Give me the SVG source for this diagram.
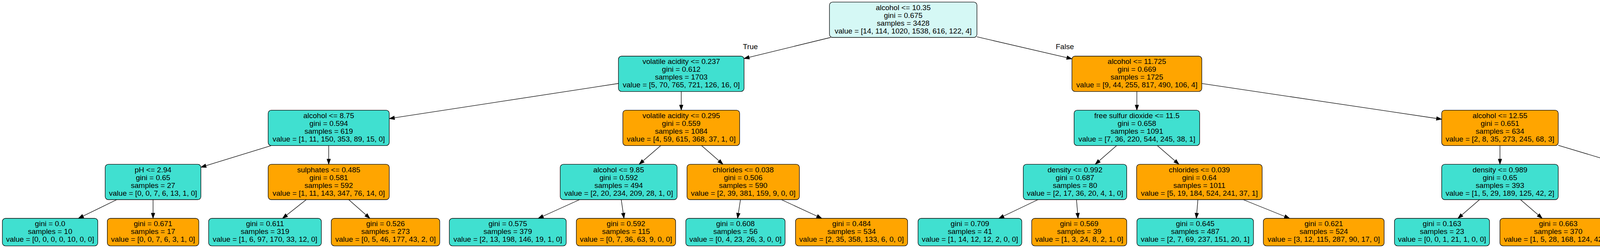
<svg xmlns="http://www.w3.org/2000/svg" width="4707" height="636" viewBox="0 0 4707 636">
<style>
.n rect{stroke:#000;stroke-width:1.33}
.t{fill:#40e0d0}
.o{fill:#ffa500}
.r{fill:#d5f8f5}
text{font-family:"Liberation Sans",Arial,Helvetica,sans-serif;font-size:19px;text-anchor:middle;fill:#000}
.e line{stroke:#000;stroke-width:1.33;marker-end:url(#arr)}
</style>
<defs>
<marker id="arr" markerUnits="userSpaceOnUse" markerWidth="16" markerHeight="12" refX="13.33" refY="4.67" orient="auto" overflow="visible">
<path d="M0,0 L13.33,4.67 L0,9.33 z" fill="#000" stroke="#000" stroke-width="1"/>
</marker>
</defs>
<rect width="4707" height="636" fill="#fff"/>
<g class="e" id="edges">
<line x1="2126.45" y1="96" x2="1904.75" y2="150.1"/>
<line x1="2500.95" y1="94.42" x2="2744.2" y2="150.8"/>
<line x1="1583.25" y1="214.03" x2="996.5" y2="304.19"/>
<line x1="1744" y1="234" x2="1744" y2="282.67"/>
<line x1="2910.4" y1="234" x2="2910.4" y2="282.67"/>
<line x1="3076.6" y1="214.13" x2="3690.7" y2="305.74"/>
<line x1="694.5" y1="373.33" x2="514.3" y2="428.9"/>
<line x1="841.5" y1="373.33" x2="841.5" y2="421.33"/>
<line x1="1691.63" y1="373.33" x2="1636.17" y2="421.33"/>
<line x1="1795.85" y1="373.33" x2="1850.75" y2="421.33"/>
<line x1="2858.62" y1="373.33" x2="2803.78" y2="421.33"/>
<line x1="2962.7" y1="373.33" x2="3018.1" y2="421.33"/>
<line x1="3839.9" y1="373.33" x2="3839.9" y2="421.33"/>
<line x1="3989.1" y1="372.72" x2="4163.6" y2="425.03"/>
<line x1="298.93" y1="512" x2="200.58" y2="560"/>
<line x1="391.8" y1="512" x2="391.8" y2="560"/>
<line x1="784.04" y1="512" x2="723.19" y2="560"/>
<line x1="892.72" y1="512" x2="946.97" y2="560"/>
<line x1="1483.78" y1="512" x2="1377.86" y2="560"/>
<line x1="1590.39" y1="512" x2="1597.36" y2="560"/>
<line x1="1895.59" y1="512" x2="1888.16" y2="560"/>
<line x1="2000.33" y1="512" x2="2103.83" y2="560"/>
<line x1="2657.23" y1="512" x2="2556.87" y2="560"/>
<line x1="2755.8" y1="512" x2="2759.83" y2="560"/>
<line x1="3066.63" y1="512" x2="3062.64" y2="560"/>
<line x1="3182.57" y1="512" x2="3301.37" y2="560"/>
<line x1="3787.62" y1="512" x2="3732.25" y2="560"/>
<line x1="3892.46" y1="512" x2="3948.13" y2="560"/>
<line x1="4302.3" y1="512" x2="4302.1" y2="560"/>
<line x1="4401.74" y1="512" x2="4506.84" y2="560"/>
<text x="1921" y="126">True</text>
<text x="2726" y="126">False</text>
</g>
<g class="n" id="node0"><rect class="r" x="2123.45" y="5.33" width="377.5" height="90.67" rx="8"/>
<text x="2312.2" y="25.6">alcohol &lt;= 10.35</text><text x="2312.2" y="45.6">gini = 0.675</text><text x="2312.2" y="65.6">samples = 3428</text><text x="2312.2" y="85.6">value = [14, 114, 1020, 1538, 616, 122, 4]</text></g>
<g class="n" id="node1"><rect class="t" x="1583.25" y="144" width="321.5" height="90.67" rx="8"/>
<text x="1744" y="164.27">volatile acidity &lt;= 0.237</text><text x="1744" y="184.27">gini = 0.612</text><text x="1744" y="204.27">samples = 1703</text><text x="1744" y="224.27">value = [5, 70, 765, 721, 126, 16, 0]</text></g>
<g class="n" id="node16"><rect class="o" x="2744.2" y="144" width="332.4" height="90.67" rx="8"/>
<text x="2910.4" y="164.27">alcohol &lt;= 11.725</text><text x="2910.4" y="184.27">gini = 0.669</text><text x="2910.4" y="204.27">samples = 1725</text><text x="2910.4" y="224.27">value = [9, 44, 255, 817, 490, 106, 4]</text></g>
<g class="n" id="node2"><rect class="t" x="686.5" y="282.67" width="310" height="90.67" rx="8"/>
<text x="841.5" y="302.93">alcohol &lt;= 8.75</text><text x="841.5" y="322.93">gini = 0.594</text><text x="841.5" y="342.93">samples = 619</text><text x="841.5" y="362.93">value = [1, 11, 150, 353, 89, 15, 0]</text></g>
<g class="n" id="node9"><rect class="o" x="1594.5" y="282.67" width="299" height="90.67" rx="8"/>
<text x="1744" y="302.93">volatile acidity &lt;= 0.295</text><text x="1744" y="322.93">gini = 0.559</text><text x="1744" y="342.93">samples = 1084</text><text x="1744" y="362.93">value = [4, 59, 615, 368, 37, 1, 0]</text></g>
<g class="n" id="node17"><rect class="t" x="2749.65" y="282.67" width="321.5" height="90.67" rx="8"/>
<text x="2910.4" y="302.93">free sulfur dioxide &lt;= 11.5</text><text x="2910.4" y="322.93">gini = 0.658</text><text x="2910.4" y="342.93">samples = 1091</text><text x="2910.4" y="362.93">value = [7, 36, 220, 544, 245, 38, 1]</text></g>
<g class="n" id="node24"><rect class="o" x="3690.7" y="282.67" width="298.4" height="90.67" rx="8"/>
<text x="3839.9" y="302.93">alcohol &lt;= 12.55</text><text x="3839.9" y="322.93">gini = 0.651</text><text x="3839.9" y="342.93">samples = 634</text><text x="3839.9" y="362.93">value = [2, 8, 35, 273, 245, 68, 3]</text></g>
<g class="n" id="node3"><rect class="t" x="269.3" y="421.33" width="245" height="90.67" rx="8"/>
<text x="391.8" y="441.6">pH &lt;= 2.94</text><text x="391.8" y="461.6">gini = 0.65</text><text x="391.8" y="481.6">samples = 27</text><text x="391.8" y="501.6">value = [0, 0, 7, 6, 13, 1, 0]</text></g>
<g class="n" id="node6"><rect class="o" x="686.5" y="421.33" width="310" height="90.67" rx="8"/>
<text x="841.5" y="441.6">sulphates &lt;= 0.485</text><text x="841.5" y="461.6">gini = 0.581</text><text x="841.5" y="481.6">samples = 592</text><text x="841.5" y="501.6">value = [1, 11, 143, 347, 76, 14, 0]</text></g>
<g class="n" id="node10"><rect class="t" x="1434.2" y="421.33" width="299.2" height="90.67" rx="8"/>
<text x="1583.8" y="441.6">alcohol &lt;= 9.85</text><text x="1583.8" y="461.6">gini = 0.592</text><text x="1583.8" y="481.6">samples = 494</text><text x="1583.8" y="501.6">value = [2, 20, 234, 209, 28, 1, 0]</text></g>
<g class="n" id="node13"><rect class="o" x="1758.75" y="421.33" width="287.7" height="90.67" rx="8"/>
<text x="1902.6" y="441.6">chlorides &lt;= 0.038</text><text x="1902.6" y="461.6">gini = 0.506</text><text x="1902.6" y="481.6">samples = 590</text><text x="1902.6" y="501.6">value = [2, 39, 381, 159, 9, 0, 0]</text></g>
<g class="n" id="node18"><rect class="t" x="2619.6" y="421.33" width="264.8" height="90.67" rx="8"/>
<text x="2752" y="441.6">density &lt;= 0.992</text><text x="2752" y="461.6">gini = 0.687</text><text x="2752" y="481.6">samples = 80</text><text x="2752" y="501.6">value = [2, 17, 36, 20, 4, 1, 0]</text></g>
<g class="n" id="node21"><rect class="o" x="2909.7" y="421.33" width="321.4" height="90.67" rx="8"/>
<text x="3070.4" y="441.6">chlorides &lt;= 0.039</text><text x="3070.4" y="461.6">gini = 0.64</text><text x="3070.4" y="481.6">samples = 1011</text><text x="3070.4" y="501.6">value = [5, 19, 184, 524, 241, 37, 1]</text></g>
<g class="n" id="node25"><rect class="t" x="3690.7" y="421.33" width="298.4" height="90.67" rx="8"/>
<text x="3839.9" y="441.6">density &lt;= 0.989</text><text x="3839.9" y="461.6">gini = 0.65</text><text x="3839.9" y="481.6">samples = 393</text><text x="3839.9" y="501.6">value = [1, 5, 29, 189, 125, 42, 2]</text></g>
<g class="n" id="node28"><rect class="o" x="4163.6" y="421.33" width="277.8" height="90.67" rx="8"/>
<text x="4302.5" y="441.6">chlorides &lt;= 0.049</text><text x="4302.5" y="461.6">gini = 0.618</text><text x="4302.5" y="481.6">samples = 241</text><text x="4302.5" y="501.6">value = [1, 3, 6, 84, 120, 26, 1]</text></g>
<g class="n" id="node4"><rect class="t" x="6.1" y="560" width="244.2" height="70.67" rx="8"/>
<text x="128.2" y="580.27">gini = 0.0</text><text x="128.2" y="600.27">samples = 10</text><text x="128.2" y="620.27">value = [0, 0, 0, 0, 10, 0, 0]</text></g>
<g class="n" id="node5"><rect class="o" x="274.7" y="560" width="234.2" height="70.67" rx="8"/>
<text x="391.8" y="580.27">gini = 0.671</text><text x="391.8" y="600.27">samples = 17</text><text x="391.8" y="620.27">value = [0, 0, 7, 6, 3, 1, 0]</text></g>
<g class="n" id="node7"><rect class="t" x="534.15" y="560" width="288.5" height="70.67" rx="8"/>
<text x="678.4" y="580.27">gini = 0.611</text><text x="678.4" y="600.27">samples = 319</text><text x="678.4" y="620.27">value = [1, 6, 97, 170, 33, 12, 0]</text></g>
<g class="n" id="node8"><rect class="o" x="848.05" y="560" width="277.7" height="70.67" rx="8"/>
<text x="986.9" y="580.27">gini = 0.526</text><text x="986.9" y="600.27">samples = 273</text><text x="986.9" y="620.27">value = [0, 5, 46, 177, 43, 2, 0]</text></g>
<g class="n" id="node11"><rect class="t" x="1150.3" y="560" width="299.2" height="70.67" rx="8"/>
<text x="1299.9" y="580.27">gini = 0.575</text><text x="1299.9" y="600.27">samples = 379</text><text x="1299.9" y="620.27">value = [2, 13, 198, 146, 19, 1, 0]</text></g>
<g class="n" id="node12"><rect class="o" x="1475.45" y="560" width="254.1" height="70.67" rx="8"/>
<text x="1602.5" y="580.27">gini = 0.592</text><text x="1602.5" y="600.27">samples = 115</text><text x="1602.5" y="620.27">value = [0, 7, 36, 63, 9, 0, 0]</text></g>
<g class="n" id="node14"><rect class="t" x="1755.65" y="560" width="254.1" height="70.67" rx="8"/>
<text x="1882.7" y="580.27">gini = 0.608</text><text x="1882.7" y="600.27">samples = 56</text><text x="1882.7" y="620.27">value = [0, 4, 23, 26, 3, 0, 0]</text></g>
<g class="n" id="node15"><rect class="o" x="2036.55" y="560" width="286.9" height="70.67" rx="8"/>
<text x="2180" y="580.27">gini = 0.484</text><text x="2180" y="600.27">samples = 534</text><text x="2180" y="620.27">value = [2, 35, 358, 133, 6, 0, 0]</text></g>
<g class="n" id="node19"><rect class="t" x="2350.25" y="560" width="265.5" height="70.67" rx="8"/>
<text x="2483" y="580.27">gini = 0.709</text><text x="2483" y="600.27">samples = 41</text><text x="2483" y="620.27">value = [1, 14, 12, 12, 2, 0, 0]</text></g>
<g class="n" id="node20"><rect class="o" x="2641.15" y="560" width="243.3" height="70.67" rx="8"/>
<text x="2762.8" y="580.27">gini = 0.569</text><text x="2762.8" y="600.27">samples = 39</text><text x="2762.8" y="620.27">value = [1, 3, 24, 8, 2, 1, 0]</text></g>
<g class="n" id="node22"><rect class="t" x="2910.5" y="560" width="298.4" height="70.67" rx="8"/>
<text x="3059.7" y="580.27">gini = 0.645</text><text x="3059.7" y="600.27">samples = 487</text><text x="3059.7" y="620.27">value = [2, 7, 69, 237, 151, 20, 1]</text></g>
<g class="n" id="node23"><rect class="o" x="3234.2" y="560" width="309.2" height="70.67" rx="8"/>
<text x="3388.8" y="580.27">gini = 0.621</text><text x="3388.8" y="600.27">samples = 524</text><text x="3388.8" y="620.27">value = [3, 12, 115, 287, 90, 17, 0]</text></g>
<g class="n" id="node26"><rect class="t" x="3569.85" y="560" width="243.3" height="70.67" rx="8"/>
<text x="3691.5" y="580.27">gini = 0.163</text><text x="3691.5" y="600.27">samples = 23</text><text x="3691.5" y="620.27">value = [0, 0, 1, 21, 1, 0, 0]</text></g>
<g class="n" id="node27"><rect class="o" x="3839.85" y="560" width="298.5" height="70.67" rx="8"/>
<text x="3989.1" y="580.27">gini = 0.663</text><text x="3989.1" y="600.27">samples = 370</text><text x="3989.1" y="620.27">value = [1, 5, 28, 168, 124, 42, 2]</text></g>
<g class="n" id="node29"><rect class="t" x="4163.45" y="560" width="277.1" height="70.67" rx="8"/>
<text x="4302" y="580.27">gini = 0.606</text><text x="4302" y="600.27">samples = 230</text><text x="4302" y="620.27">value = [1, 3, 4, 76, 120, 25, 1]</text></g>
<g class="n" id="node30"><rect class="o" x="4467.5" y="560" width="233.4" height="70.67" rx="8"/>
<text x="4584.2" y="580.27">gini = 0.43</text><text x="4584.2" y="600.27">samples = 11</text><text x="4584.2" y="620.27">value = [0, 0, 2, 8, 0, 1, 0]</text></g>
</svg>
